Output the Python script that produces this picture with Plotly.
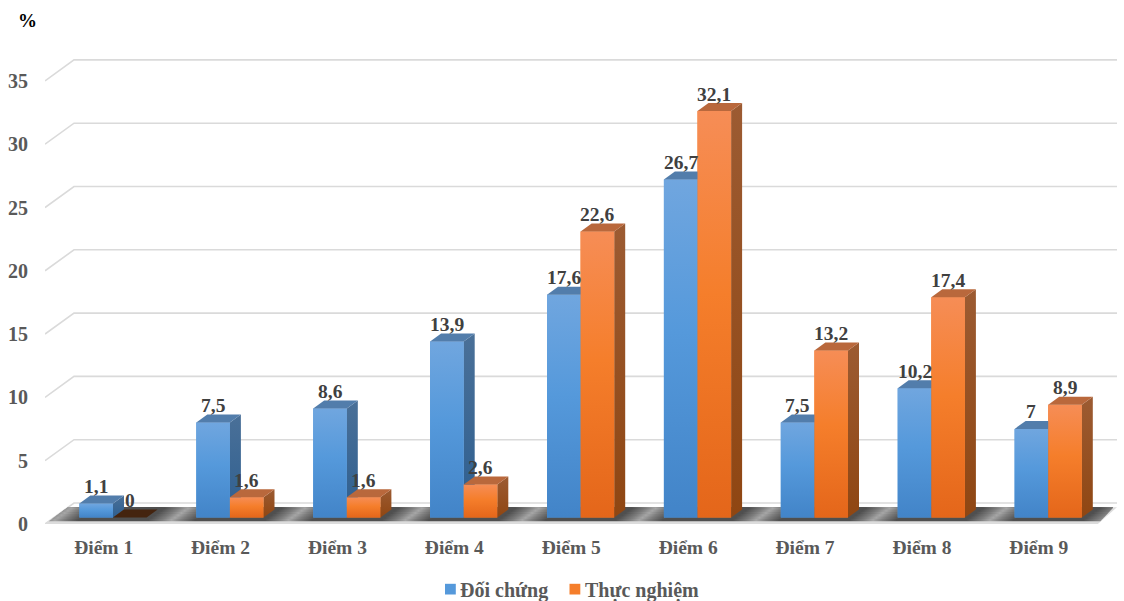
import plotly.graph_objects as go

# Chart data
categories = ["Điểm 1", "Điểm 2", "Điểm 3", "Điểm 4", "Điểm 5", "Điểm 6", "Điểm 7", "Điểm 8", "Điểm 9"]
doi_chung = [1.1, 7.5, 8.6, 13.9, 17.6, 26.7, 7.5, 10.2, 7]
thuc_nghiem = [0, 1.6, 1.6, 2.6, 22.6, 32.1, 13.2, 17.4, 8.9]
axis_ticks = [0, 5, 10, 15, 20, 25, 30, 35]

# Plot area and scales, in pixels per data unit
WIDTH, HEIGHT = 1124, 601
LEFT, RIGHT, TOP, BOTTOM = 45, 1117, 50, 524
PX_X = 116.9
PX_Y = 12.66
X_ORIGIN = 113.0           # pixel of the first category's centre
BAR_PLANE_LIFT = 6.5       # the bars stand this far behind the front floor edge
BAR_W = 33.6 / PX_X
DEPTH_X, DEPTH_Y = 11 / PX_X, 8 / PX_Y          # bar depth
WALL_X, WALL_Y = 29 / PX_X, 21 / PX_Y           # floor depth
X0 = (LEFT - X_ORIGIN) / PX_X
X1 = (RIGHT - X_ORIGIN) / PX_X
Y_TOP = (BOTTOM - TOP) / PX_Y
LIFT = BAR_PLANE_LIFT / PX_Y

FONT = "Liberation Serif"
BLUE = dict(front=[[0, "#4284C8"], [0.55, "#5599DB"], [1, "#70A6DF"]],
            side=[[0, "#2E5F90"], [1, "#4A7098"]], top="#527DAB", legend="#5599DB")
ORANGE = dict(front=[[0, "#E4661A"], [0.55, "#F57E2B"], [1, "#F68D56"]],
              side=[[0, "#8F4612"], [1, "#9C5B32"]], top="#B9683C", legend="#F57E2B")
ZERO_TOP = "#44240F"


def paper_x(px):
    return (px - LEFT) / (RIGHT - LEFT)


def paper_y(py):
    return (BOTTOM - py) / (BOTTOM - TOP)


fig = go.Figure()


def polygon(xs, ys, axis, **style):
    fig.add_trace(go.Scatter(x=xs + xs[:1], y=ys + ys[:1], yaxis=axis, mode="lines",
                             line=dict(width=0), fill="toself", hoverinfo="skip",
                             showlegend=False, **style))


# Back wall gridlines with their short run along the side wall
for t in axis_ticks:
    fig.add_trace(go.Scatter(
        x=[X0, X0 + WALL_X, X1], y=[t, t + WALL_Y, t + WALL_Y], mode="lines",
        line=dict(color="#DADADA", width=1.6), hoverinfo="skip", showlegend=False))

# Floor: pale rim with a dark band
polygon([X0, X1 - WALL_X * 0.66, X1, X0 + WALL_X * 0.85],
        [0, 0, 1.33, 1.33], "y", fillcolor="#DCDCDC")

# The dark band is painted as overlapping rows from front to back, each shifted
# along the depth direction so the lighter patches lean back towards the wall
ROWS = 6
BAND_LOW, BAND_HIGH = 0.22, 1.33
span = X1 - X0
for r in range(ROWS):
    y0 = BAND_LOW + (BAND_HIGH - BAND_LOW) * r / ROWS
    slant = y0 / WALL_Y * WALL_X
    stops = [[0, "#8A8A8A"]]
    for i in range(-1, 9):
        g = i + 0.47 + slant
        for off, col in ((-0.20, "#4F4F4F"), (-0.08, "#7E7E7E"), (0.0, "#A6A6A6"),
                         (0.08, "#7E7E7E"), (0.20, "#4F4F4F")):
            c = (g + off - X0) / span
            if 0 < c < 1:
                stops.append([c, col])
    stops.append([1, "#6A6A6A"])
    xl0 = X0 + y0 / WALL_Y * WALL_X
    xl1 = X0 + BAND_HIGH / WALL_Y * WALL_X
    xr0 = X1 - WALL_X * 0.66 + y0 / WALL_Y * WALL_X * 0.66
    xr1 = X1 - WALL_X * 0.66 + BAND_HIGH / WALL_Y * WALL_X * 0.66
    polygon([xl0, xr0, xr1, xl1], [y0, y0, BAND_HIGH, BAND_HIGH], "y",
            fillgradient=dict(type="horizontal", colorscale=stops, start=X0, stop=X1))


def draw_series(values, left_edge, palette):
    for i, v in enumerate(values):
        xl = i + left_edge
        xr = xl + BAR_W
        if v > 0:
            # right-hand side face
            polygon([xr, xr + DEPTH_X, xr + DEPTH_X, xr], [0, DEPTH_Y, v + DEPTH_Y, v], "y2",
                    fillgradient=dict(type="vertical", colorscale=palette["side"],
                                      start=0, stop=v + DEPTH_Y))
            # front face shading over the bar
            polygon([xl, xr, xr, xl], [0, 0, v, v], "y2",
                    fillgradient=dict(type="vertical", colorscale=palette["front"], start=0, stop=v))
        # top face
        polygon([xl, xr, xr + DEPTH_X, xl + DEPTH_X], [v, v, v + DEPTH_Y, v + DEPTH_Y], "y2",
                fillcolor=palette["top"] if v > 0 else ZERO_TOP)


x_pos = list(range(len(categories)))
for name, values, offset, palette in (("Đối chứng", doi_chung, -BAR_W, BLUE),
                                      ("Thực nghiệm", thuc_nghiem, 0.0, ORANGE)):
    fig.add_trace(go.Bar(x=x_pos, y=values, name=name, yaxis="y2", width=BAR_W, offset=offset,
                         showlegend=False, marker=dict(color=palette["legend"], line=dict(width=0))))
    draw_series(values, offset, palette)

    # Value labels above the front face of each bar
    for i, v in enumerate(values):
        fig.add_annotation(x=i + offset + BAR_W / 2, y=v, xref="x", yref="y2", yshift=17,
                           text=str(v).replace(".", ","), showarrow=False,
                           font=dict(family=FONT, size=19.5, color="#404040", weight="bold"))

# Unit caption above the value axis
fig.add_annotation(x=paper_x(27), y=paper_y(20), xref="paper", yref="paper", text="%",
                   xanchor="center", yanchor="middle", showarrow=False,
                   font=dict(family=FONT, size=19, color="#000000", weight="bold"))

# Key below the chart: tight swatches sitting close to their text
for label, swatch_px, text_px, palette in (("Đối chứng", 445, 460, BLUE),
                                           ("Thực nghiệm", 569.5, 585, ORANGE)):
    fig.add_shape(type="rect", xref="paper", yref="paper", line=dict(width=0),
                  x0=paper_x(swatch_px), x1=paper_x(swatch_px + 10.8),
                  y0=paper_y(594.5), y1=paper_y(583.8), fillcolor=palette["legend"])
    fig.add_annotation(x=paper_x(text_px), y=paper_y(590), xref="paper", yref="paper", text=label,
                       xanchor="left", yanchor="middle", showarrow=False, xshift=-2,
                       font=dict(family=FONT, size=20, color="#595959", weight="bold"))

fig.update_layout(
    width=WIDTH, height=HEIGHT,
    margin=dict(l=LEFT, r=WIDTH - RIGHT, t=TOP, b=HEIGHT - BOTTOM, autoexpand=False),
    paper_bgcolor="white", plot_bgcolor="white",
    barmode="overlay",
    font=dict(family=FONT),
    xaxis=dict(range=[X0, X1], showgrid=False, zeroline=False, showline=False,
               tickmode="array", tickvals=[i - 0.08 for i in x_pos], ticktext=categories,
               tickfont=dict(family=FONT, size=19.5, color="#595959", weight="bold"),
               ticks="outside", ticklen=6, tickcolor="rgba(0,0,0,0)"),
    yaxis=dict(range=[0, Y_TOP], showgrid=False, zeroline=False, showline=False,
               tickmode="array", tickvals=axis_ticks, ticktext=[str(t) for t in axis_ticks],
               tickfont=dict(family=FONT, size=20, color="#595959", weight="bold"),
               ticks="outside", ticklen=12, tickcolor="rgba(0,0,0,0)"),
    yaxis2=dict(range=[-LIFT, Y_TOP - LIFT], overlaying="y", visible=False),
    showlegend=False,
)
fig.write_html("out.html")
